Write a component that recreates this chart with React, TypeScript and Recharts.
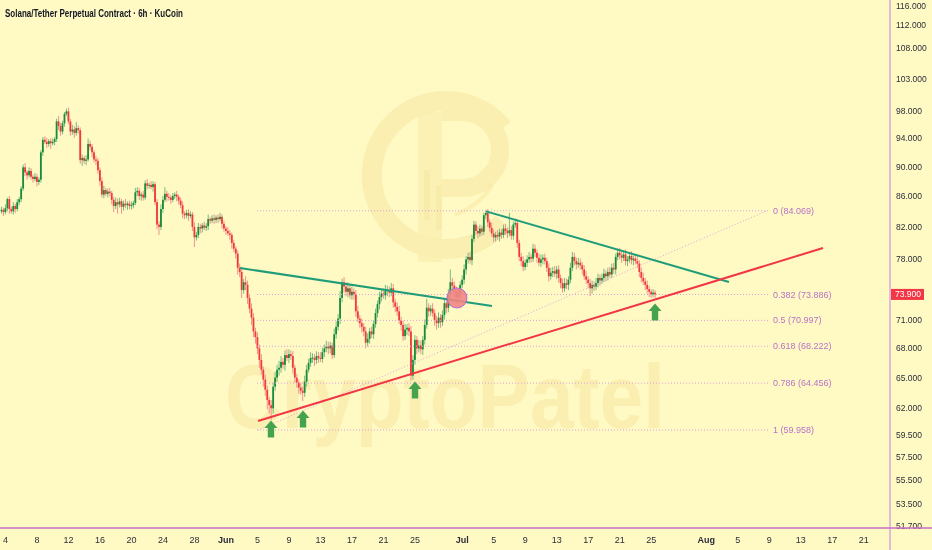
import React from 'react';
import { ComposedChart, Bar, XAxis, YAxis, ReferenceLine, ReferenceDot } from 'recharts';

// ---------- data ----------
const startDay = -28.5; // first candle: 3 May 12:00, in days since 1 Jun
const stepDay = 0.25; // 6h candles
const firstOpen = 84.0;
const lastPrice = 73.9;

const closesMay = [
  84.2, 83.9, 84.4, 85.6, 84.3, 84.0, 84.7, 84.3, 85.2, 85.6,
  87.0, 89.9, 89.2, 88.8, 89.4, 88.6, 88.3, 88.6, 87.9, 88.2,
  92.0, 93.8, 93.5, 93.2, 93.6, 93.3, 93.5, 93.9, 96.5, 95.8,
  95.0, 96.2, 97.6, 98.0, 96.5, 95.0, 95.3, 94.8, 95.5, 95.2,
  90.9, 91.2, 90.8, 91.0, 93.2, 92.8, 92.0, 91.0, 90.8, 89.5,
  88.0, 86.2, 86.8, 86.3, 86.6, 86.4, 85.5, 84.7, 85.2, 84.9,
  85.3, 84.6, 85.0, 84.8, 85.0, 84.7, 84.8, 85.1, 86.5, 86.7,
  86.0, 86.2, 85.8, 87.7, 87.4, 87.5, 87.2, 87.6, 85.2, 82.3,
  82.0, 84.3, 85.5, 86.3, 85.9, 85.8, 85.5, 86.0, 86.2, 85.9,
  85.4, 84.8, 83.7, 83.5, 83.8, 83.4, 83.6, 82.0, 80.7, 81.0,
  82.0, 81.8, 82.2, 81.9, 82.1, 83.0, 82.8, 83.1, 82.9, 83.2,
  83.0, 83.3, 82.4, 81.8,
];
const closesJun = [
  81.5, 81.2, 81.0, 80.0, 79.3, 78.7,
  77.0, 76.5, 74.4, 75.3, 75.0, 73.5, 72.3, 71.3, 69.8, 69.2,
  68.0, 66.8, 65.8, 64.8, 63.8, 62.8, 62.3, 62.0, 64.1, 65.0,
  65.8, 66.0, 66.6, 66.3, 67.3, 67.0, 67.4, 67.2, 66.0, 65.0,
  64.5, 64.0, 63.7, 63.5, 64.6, 65.8, 66.5, 67.0, 67.0, 66.8,
  67.2, 67.0, 66.9, 67.6, 68.0, 68.2, 68.0, 68.3, 67.3, 69.5,
  70.3, 71.2, 73.5, 75.3, 74.8, 74.2, 74.6, 73.8, 74.2, 73.9,
  72.0, 71.2, 70.7, 70.3, 69.8, 68.6, 69.0, 69.8, 69.5, 70.6,
  71.8, 72.8, 73.6, 74.0, 73.8, 74.3, 74.4, 74.1, 74.6, 73.0,
  72.5, 72.0, 71.0, 70.5, 69.3, 70.0, 70.2, 69.8, 65.2, 66.8,
  68.9, 68.0, 68.3, 67.9, 68.9, 70.5, 72.4, 72.0, 72.3, 71.8,
  71.0, 70.7, 71.3, 70.8, 71.6, 72.9, 72.4, 73.8, 75.3, 74.9,
  74.2, 73.6, 74.0, 75.0,
];
const closesJul = [
  75.6, 76.8, 78.0, 78.3, 77.9, 80.5,
  82.3, 81.5, 81.2, 81.8, 81.4, 83.5, 83.8, 82.6, 81.9, 81.2,
  80.7, 81.0, 80.8, 81.3, 81.0, 81.8, 81.5, 81.2, 81.6, 80.9,
  82.3, 82.5, 80.0, 78.3, 77.8, 77.1, 77.6, 78.0, 78.3, 78.1,
  79.3, 78.8, 78.2, 77.6, 78.0, 78.2, 77.8, 77.0, 76.0, 76.4,
  76.6, 76.3, 76.8, 75.8, 75.2, 74.6, 75.2, 75.0, 75.6, 77.0,
  78.3, 77.8, 77.4, 77.6, 77.3, 76.8, 76.0, 75.6, 75.2, 74.6,
  75.0, 74.8, 75.2, 75.8, 75.5, 75.8, 76.3, 76.0, 76.5, 76.2,
  77.0, 76.8, 78.3, 78.8, 78.5, 78.2, 78.6, 77.8, 78.0, 78.4,
  77.9, 78.1, 77.8, 77.5, 76.5, 75.8, 75.4, 75.0, 74.5, 74.2,
  73.9, 74.1, 73.9,
];

const wickUp = [
  0.4, 0.3, 0.5, 0.2, 0.4, 0.3, 0.5, 0.3, 0.4, 0.3,
  0.3, 0.4, 0.6, 0.3, 0.5, 0.4, 0.3, 0.5, 0.4, 0.3,
  0.3, 0.4, 0.5, 0.6, 0.3, 0.4, 0.5, 0.3, 0.4, 0.8,
  0.5, 0.4, 0.3, 0.4, 0.6, 0.4, 0.7, 0.5, 0.9, 0.4,
  0.4, 0.5, 0.3, 0.6, 0.8, 0.5, 0.4, 0.3, 0.5, 0.4,
  0.4, 0.5, 0.6, 0.3, 0.4, 0.5, 0.3, 0.4, 0.6, 0.5,
  0.5, 0.3, 0.4, 0.6, 0.3, 0.4, 0.5, 0.3, 0.6, 0.5,
  0.4, 0.3, 0.5, 0.4, 0.6, 0.3, 0.5, 0.4, 0.3, 0.4,
  0.4, 0.6, 0.5, 0.9, 0.4, 0.5, 0.3, 0.4, 0.3, 0.5,
  0.3, 0.4, 0.5, 0.3, 0.4, 0.5, 0.4, 0.3, 0.6, 0.4,
  0.5, 0.4, 0.3, 0.5, 0.4, 0.6, 0.3, 0.4, 0.5, 0.3,
  0.4, 0.5, 0.3, 0.4, 0.3, 0.5, 0.4, 0.3, 0.4, 0.3,
  0.4, 0.5, 0.6, 0.4, 0.7, 0.5, 0.4, 0.6, 0.5, 0.4,
  0.5, 0.4, 0.6, 0.3, 0.5, 0.4, 0.3, 0.5, 0.4, 0.6,
  0.5, 0.7, 0.6, 0.4, 0.5, 0.6, 0.5, 0.4, 0.5, 0.3,
  0.4, 0.3, 0.5, 0.4, 0.6, 0.5, 0.4, 0.6, 0.5, 0.4,
  0.5, 0.4, 0.6, 0.5, 0.4, 0.6, 0.5, 0.4, 0.3, 0.6,
  0.6, 0.5, 0.8, 0.4, 0.6, 0.5, 0.7, 0.5, 0.6, 0.4,
  0.5, 0.6, 0.4, 0.5, 0.4, 0.5, 0.6, 0.4, 0.5, 0.4,
  0.5, 0.4, 0.6, 0.5, 0.6, 0.7, 0.5, 0.4, 0.6, 0.5,
  0.4, 0.5, 0.6, 0.4, 0.5, 0.6, 0.4, 0.5, 0.6, 0.5,
  0.5, 0.4, 0.6, 0.5, 0.4, 0.6, 1.0, 0.5, 0.4, 0.6,
  0.4, 0.5, 0.6, 0.4, 0.5, 0.6, 0.5, 0.7, 1.5, 0.5,
  0.5, 0.6, 0.5, 0.4, 0.5, 0.6, 0.4, 0.5, 0.6, 0.5,
  0.5, 0.4, 0.6, 0.5, 0.4, 0.3, 0.3, 0.5, 0.4, 0.6,
  0.5, 0.4, 0.6, 0.5, 0.4, 0.5, 0.6, 0.4, 2.2, 0.5,
  0.4, 0.6, 0.5, 0.4, 0.5, 0.6, 0.4, 0.5, 0.6, 0.4,
  0.6, 0.5, 0.4, 0.5, 0.6, 0.4, 0.5, 0.4, 0.5, 0.6,
  0.5, 0.6, 0.4, 0.5, 0.4, 0.5, 0.6, 0.5, 0.4, 0.6,
  0.6, 0.5, 0.4, 0.6, 0.5, 0.4, 0.5, 0.6, 0.4, 0.5,
  0.5, 0.4, 0.6, 0.5, 0.4, 0.5, 0.6, 0.4, 0.5, 0.6,
  0.5, 0.6, 0.4, 0.5, 0.6, 0.4, 0.5, 0.6, 0.4, 0.5,
  0.6, 0.4, 0.5, 0.6, 0.4, 0.5, 0.6, 0.4, 0.5, 0.4,
  0.3, 0.4, 0.3,
];
const wickDown = [
  0.3, 0.5, 0.3, 0.4, 0.6, 0.3, 0.4, 0.5, 0.3, 0.4,
  0.4, 0.3, 0.5, 0.6, 0.3, 0.4, 0.5, 0.3, 0.6, 0.4,
  0.4, 0.5, 0.3, 0.6, 0.4, 0.8, 0.3, 0.5, 0.4, 0.6,
  0.6, 0.4, 0.5, 0.3, 0.4, 0.6, 0.5, 0.7, 0.4, 0.5,
  0.5, 0.8, 0.4, 0.6, 0.3, 0.5, 0.7, 0.4, 0.6, 0.5,
  0.6, 0.4, 0.5, 0.3, 0.5, 0.4, 0.6, 0.8, 0.4, 1.2,
  0.4, 0.9, 0.5, 0.4, 0.6, 0.4, 0.5, 0.4, 0.3, 0.5,
  0.5, 0.6, 0.4, 0.3, 0.5, 0.4, 0.3, 0.6, 0.4, 0.6,
  1.0, 0.4, 0.5, 0.3, 0.6, 0.4, 0.5, 0.3, 0.4, 0.6,
  0.5, 0.4, 0.6, 0.5, 0.4, 0.6, 0.3, 0.5, 1.2, 0.4,
  0.4, 0.6, 0.5, 0.3, 0.4, 0.5, 0.4, 0.3, 0.5, 0.4,
  0.5, 0.3, 0.6, 0.4, 0.5, 0.3, 0.6, 0.7, 0.4, 0.6,
  0.8, 0.6, 0.9, 0.4, 0.6, 0.7, 0.5, 0.8, 0.6, 0.7,
  0.6, 0.8, 0.5, 0.7, 0.6, 0.9, 0.8, 1.1, 0.5, 0.4,
  0.4, 0.6, 0.5, 0.4, 0.6, 0.3, 0.5, 0.4, 0.6, 0.5,
  0.5, 0.6, 0.4, 0.8, 0.4, 0.5, 0.3, 0.4, 0.5, 0.6,
  0.4, 0.5, 0.3, 0.4, 0.5, 0.4, 0.6, 0.5, 0.4, 0.3,
  0.5, 0.4, 0.6, 0.5, 0.7, 0.5, 0.6, 0.4, 0.5, 0.6,
  0.6, 0.4, 0.5, 0.6, 0.5, 0.6, 0.4, 0.5, 0.4, 0.5,
  0.4, 0.5, 0.6, 0.5, 0.4, 0.5, 0.6, 0.5, 0.4, 0.6,
  0.6, 0.5, 0.4, 0.6, 0.5, 0.4, 0.6, 0.5, 0.5, 0.4,
  0.5, 0.6, 0.4, 0.5, 0.6, 0.5, 0.4, 0.6, 0.5, 0.4,
  0.6, 0.7, 0.5, 0.6, 0.4, 0.5, 0.6, 0.5, 0.4, 0.6,
  0.6, 0.8, 0.5, 0.6, 0.4, 0.5, 0.6, 0.5, 0.4, 0.6,
  0.4, 0.5, 0.6, 0.4, 0.5, 0.4, 0.5, 0.6, 0.5, 0.4,
  0.6, 0.5, 0.4, 0.6, 0.5, 0.4, 0.5, 0.6, 0.4, 0.5,
  0.5, 0.4, 0.6, 0.5, 0.6, 0.5, 0.4, 0.5, 0.4, 0.5,
  0.4, 0.5, 0.6, 0.4, 0.5, 0.6, 0.4, 0.5, 0.6, 0.4,
  0.5, 0.4, 0.6, 0.5, 0.6, 0.5, 0.4, 0.5, 0.6, 0.4,
  0.4, 0.5, 0.6, 0.4, 0.5, 0.6, 0.4, 0.5, 0.6, 0.9,
  0.6, 0.5, 0.4, 0.5, 0.6, 0.4, 0.5, 0.6, 0.5, 0.4,
  0.4, 0.5, 0.6, 0.4, 0.5, 0.6, 0.4, 0.5, 0.6, 0.4,
  0.5, 0.6, 0.4, 0.5, 0.6, 0.5, 0.4, 0.6, 0.5, 0.6,
  0.4, 0.3, 0.4,
];

// axis ticks
const xTickDays = [-28, -24, -20, -16, -12, -8, -4, 0, 4, 8, 12, 16, 20, 24, 30, 34, 38, 42, 46, 50, 54, 61, 65, 69, 73, 77, 81];
const xTickLabels = ['4', '8', '12', '16', '20', '24', '28', 'Jun', '5', '9', '13', '17', '21', '25', 'Jul', '5', '9', '13', '17', '21', '25', 'Aug', '5', '9', '13', '17', '21'];
const monthLabels = ['Jun', 'Jul', 'Aug'];
const yTicks = [116, 112, 108, 103, 98, 94, 90, 86, 82, 78, 73.9, 71, 68, 65, 62, 59.5, 57.5, 55.5, 53.5, 51.7];

// fibonacci retracement
const fibRatios = ['0', '0.382', '0.5', '0.618', '0.786', '1'];
const fibPrices = [84.069, 73.886, 70.997, 68.222, 64.456, 59.958];
const fibFromDay = 3.94;
const fibToDay = 68.83;
const fibLabelDay = 69.46;

// drawn trend lines [day, price]
const greenLine1 = [[1.78, 76.97], [33.78, 72.6]];
const greenLine2 = [[33.02, 84.0], [63.87, 75.33]];
const redLine = [[4.06, 60.8], [75.81, 79.38]];
const fibDiagonal = [[4.06, 59.958], [68.7, 84.069]];

// markers
const arrowPoints = [[5.71, 60.05], [9.78, 60.98], [24.0, 63.78], [54.48, 71.92]];
const breakoutCircle = [29.33, 73.5];

// ---------- derived ----------
const closes = [...closesMay, ...closesJun, ...closesJul];
const candles = closes.map((c, i) => {
  const o = i === 0 ? firstOpen : closes[i - 1];
  const top = Math.max(o, c);
  const bot = Math.min(o, c);
  return {
    t: startDay + i * stepDay,
    wick: [bot - (wickDown[i] ?? 0.4), top + (wickUp[i] ?? 0.4)],
    body: [bot, top === bot ? top + 0.05 : top],
    up: c >= o,
  };
});

const FONT = '"Liberation Sans", Arial, sans-serif';
const BG = '#fff9c4';
const UP = '#1a8a3b';
const DOWN = '#f03a3a';
const UP_W = '#72bf7f';
const DOWN_W = '#f39090';

const WickShape = (p: any) => {
  const { x, y, width, height, payload } = p;
  if (x == null || y == null || !payload) return null;
  const top = height < 0 ? y + height : y;
  const h = Math.max(Math.abs(height), 1);
  const cx = x + width / 2;
  return <rect x={cx - 0.5} y={top} width={1} height={h} fill={payload.up ? UP_W : DOWN_W} />;
};

const BodyShape = (p: any) => {
  const { x, y, width, height, payload } = p;
  if (x == null || y == null || !payload) return null;
  const top = height < 0 ? y + height : y;
  const h = Math.max(Math.abs(height), 1);
  const cx = x + width / 2;
  return <rect x={cx - 0.9} y={top} width={1.8} height={h} fill={payload.up ? UP : DOWN} />;
};

const XTick = (p: any) => {
  const { x, payload } = p;
  const idx = xTickDays.indexOf(payload.value);
  const label = idx >= 0 ? xTickLabels[idx] : '';
  const bold = monthLabels.includes(label);
  return (
    <text x={x} y={543} textAnchor="middle" fontSize={9} fontWeight={bold ? 700 : 400} fill="#2a2e39" fontFamily={FONT}>
      {label}
    </text>
  );
};

const YTick = (p: any) => {
  const { y, payload } = p;
  const v = payload.value as number;
  const ty = Math.max(y, 6);
  if (v === lastPrice) {
    return (
      <g>
        <rect x={891} y={y - 5.5} width={33} height={11} fill="#f23645" />
        <text x={895} y={y + 3} fontSize={8.5} fill="#ffffff" fontFamily={FONT}>
          {v.toFixed(3)}
        </text>
      </g>
    );
  }
  return (
    <text x={896} y={ty + 3} fontSize={8.5} fill="#2a2e39" fontFamily={FONT}>
      {v.toFixed(3)}
    </text>
  );
};

const arrowShape = (p: any) => {
  const { cx, cy } = p;
  const pts = [
    [cx, cy - 8.5],
    [cx + 6.5, cy - 1],
    [cx + 3.2, cy - 1],
    [cx + 3.2, cy + 8.5],
    [cx - 3.2, cy + 8.5],
    [cx - 3.2, cy - 1],
    [cx - 6.5, cy - 1],
  ]
    .map((q) => q.join(','))
    .join(' ');
  return <polygon points={pts} fill="#45a34f" />;
};

const fibLabelShape = (text: string) => (p: any) => (
  <text x={p.cx} y={p.cy + 3} fontSize={9} fill="#b774c9" fontFamily={FONT}>
    {text}
  </text>
);

const seg = (line: number[][]) => [
  { x: line[0][0], y: line[0][1] },
  { x: line[1][0], y: line[1][1] },
];

export default function App() {
  const wm = '#f8eba8';
  return (
    <div style={{ position: 'absolute', left: 0, top: 0, width: 932, height: 550, background: BG, overflow: 'hidden' }}>
      {/* watermark */}
      <svg width={932} height={550} style={{ position: 'absolute', left: 0, top: 0 }}>
        <g opacity={0.7}>
          <path d="M 503 128 A 74 74 0 1 0 503 222" fill="none" stroke={wm} strokeWidth={20} />
          <rect x={432} y={96} width={6} height={14} fill={wm} />
          <rect x={448} y={96} width={6} height={14} fill={wm} />
          <rect x={418} y={112} width={24} height={150} fill={wm} opacity={0.8} />
          <path d="M 442 112 L 462 112 A 38 38 0 0 1 462 188 L 442 188" fill="none" stroke={wm} strokeWidth={18} />
          <rect x={424} y={170} width={6} height={50} fill="#f3e29a" opacity={0.6} />
          <rect x={436} y={185} width={6} height={45} fill="#f3e29a" opacity={0.6} />
          <path d="M 455 215 Q 480 205 492 185" fill="none" stroke="#f3e29a" strokeWidth={4} opacity={0.6} />
          <text x={225} y={428} fontSize={90} fontWeight={700} fill={wm} fontFamily={FONT} textLength={440} lengthAdjust="spacingAndGlyphs">
            CryptoPatel
          </text>
        </g>
      </svg>

      <div style={{ position: 'absolute', left: 0, top: 0 }}>
        <ComposedChart width={932} height={550} data={candles} margin={{ top: 0, right: 0, bottom: 0, left: 0 }}>
          <XAxis
            xAxisId="main"
            dataKey="t"
            type="number"
            domain={[-28.7, 84.32]}
            allowDataOverflow
            ticks={xTickDays}
            interval={0}
            height={22}
            tickLine={false}
            axisLine={false}
            tick={XTick}
          />
          <XAxis xAxisId="body" dataKey="t" type="number" domain={[-28.7, 84.32]} allowDataOverflow hide />
          <YAxis
            orientation="right"
            type="number"
            scale="log"
            domain={[51.55, 116.36]}
            allowDataOverflow
            ticks={yTicks}
            interval={0}
            width={42}
            tickLine={false}
            axisLine={false}
            tick={YTick}
          />

          {fibPrices.map((v, i) => (
            <ReferenceLine
              key={'fib' + i}
              xAxisId="main"
              segment={[{ x: fibFromDay, y: v }, { x: fibToDay, y: v }]}
              stroke="#d8a2dc"
              strokeDasharray="1 2"
              strokeWidth={1}
            />
          ))}
          <ReferenceLine xAxisId="main" segment={seg(fibDiagonal)} stroke="#d8a2dc" strokeDasharray="1 2" strokeWidth={1} />

          <Bar xAxisId="main" dataKey="wick" barSize={2} shape={WickShape} isAnimationActive={false} />
          <Bar xAxisId="body" dataKey="body" barSize={2} shape={BodyShape} isAnimationActive={false} />

          <ReferenceLine xAxisId="main" segment={seg(greenLine1)} stroke="#1f9c78" strokeWidth={2} />
          <ReferenceLine xAxisId="main" segment={seg(greenLine2)} stroke="#1f9c78" strokeWidth={2} />
          <ReferenceLine xAxisId="main" segment={seg(redLine)} stroke="#f23645" strokeWidth={2} />

          <ReferenceDot
            xAxisId="main"
            x={breakoutCircle[0]}
            y={breakoutCircle[1]}
            r={10}
            fill="#f28585"
            fillOpacity={0.9}
            stroke="#b06ad4"
            strokeWidth={1}
          />
          {arrowPoints.map((a, i) => (
            <ReferenceDot key={'ar' + i} xAxisId="main" x={a[0]} y={a[1]} r={8} shape={arrowShape} />
          ))}
          {fibPrices.map((v, i) => (
            <ReferenceDot
              key={'fl' + i}
              xAxisId="main"
              x={fibLabelDay}
              y={v}
              r={1}
              shape={fibLabelShape(`${fibRatios[i]} (${v.toFixed(3)})`)}
            />
          ))}
        </ComposedChart>
      </div>

      {/* chrome overlay */}
      <svg width={932} height={550} style={{ position: 'absolute', left: 0, top: 0, pointerEvents: 'none' }}>
        <rect x={891} y={529} width={41} height={21} fill={BG} />
        <line x1={890} y1={0} x2={890} y2={550} stroke="#d9a6da" strokeWidth={1.5} />
        <line x1={0} y1={528} x2={932} y2={528} stroke="#c86bc8" strokeWidth={1.5} />
        <text x={5} y={17} fontSize={10.5} fontWeight={700} fill="#131722" fontFamily={FONT} textLength={178} lengthAdjust="spacingAndGlyphs">
          Solana/Tether Perpetual Contract · 6h · KuCoin
        </text>
      </svg>
    </div>
  );
}
